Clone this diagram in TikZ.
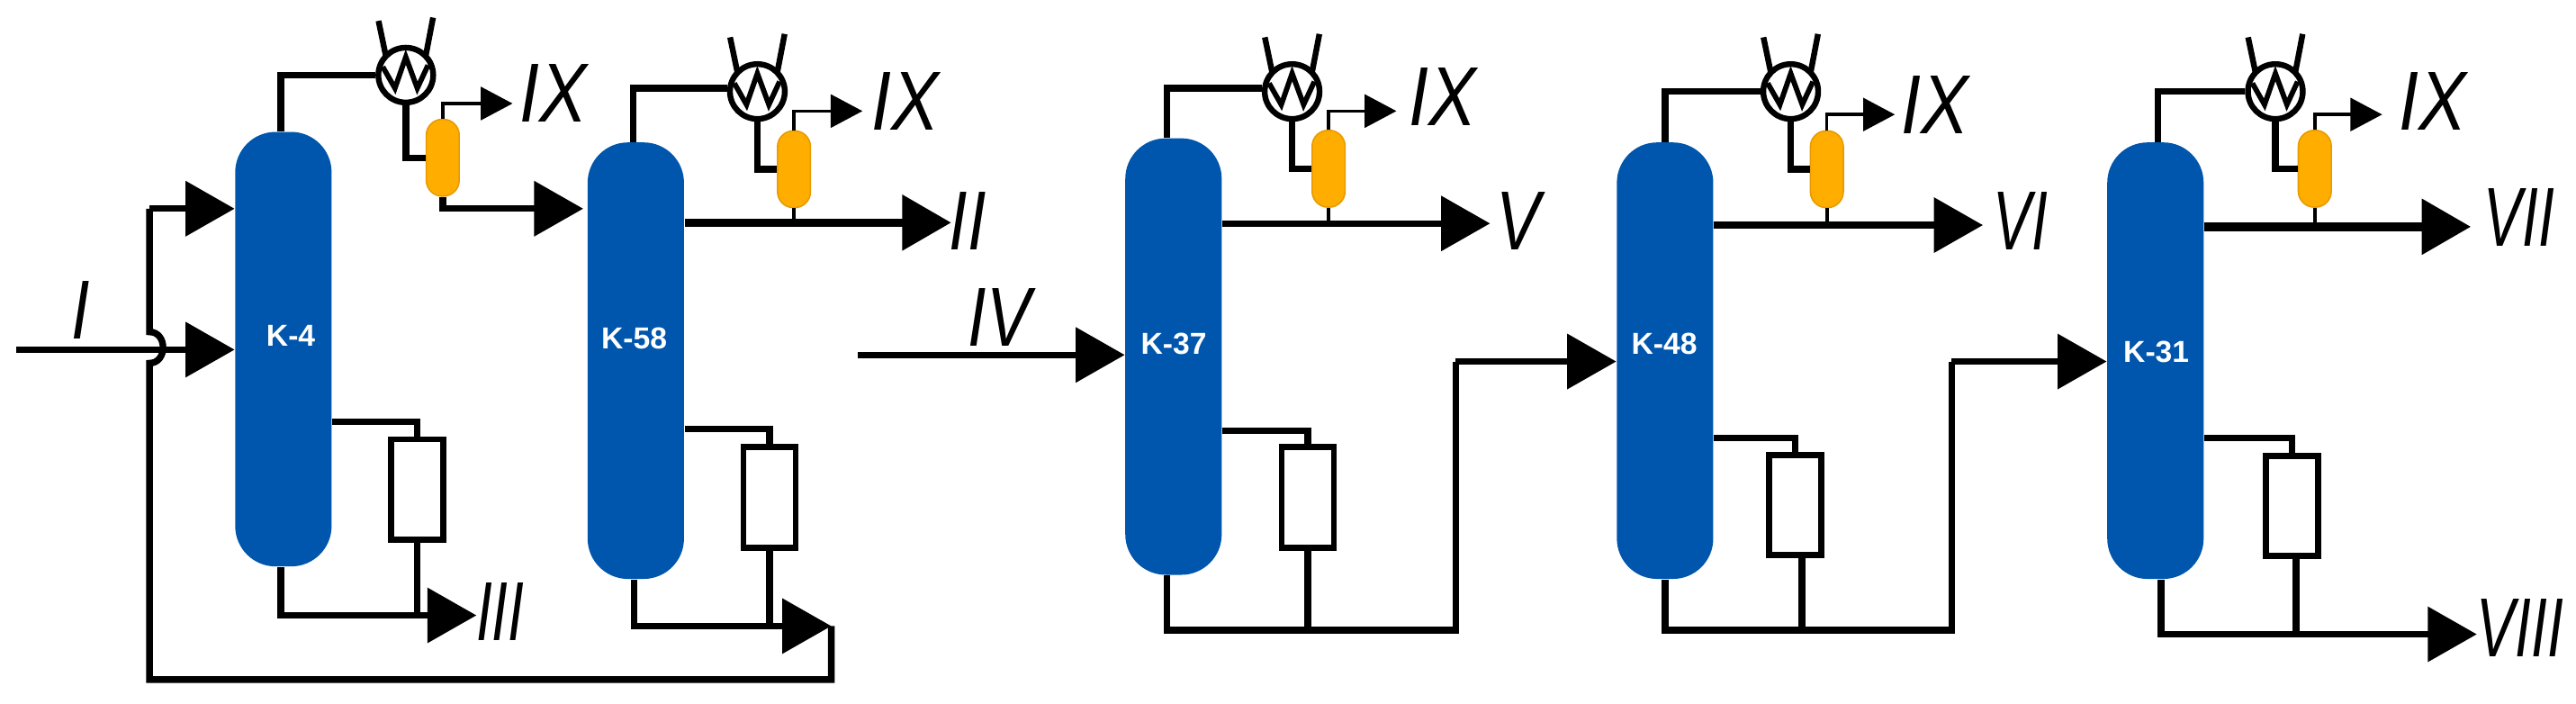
\documentclass[tikz,border=0pt]{standalone}
\usepackage{fontspec}
\setmainfont{Liberation Sans}
\newfontfamily\labA{Liberation Sans}[FakeStretch=0.85]
\newfontfamily\labB{Liberation Sans}[FakeStretch=0.79]
\newfontfamily\labC{Liberation Sans}[FakeStretch=0.69]
\usetikzlibrary{arrows.meta}
\definecolor{colblue}{HTML}{0056AC}
\definecolor{drumor}{HTML}{FFAE00}
\definecolor{drumedge}{HTML}{E89A00}
\tikzset{
  line/.style={line width=2.3pt,black},
  heavy/.style={line width=3pt,black},
  vent/.style={line width=1.1pt,black},
  stub/.style={line width=1.3pt,black},
  big/.style={-{Triangle[length=17pt,width=18.7pt]}},
  small/.style={-{Triangle[length=11pt,width=11.4pt]}},
  column/.style={draw=none,fill=colblue,rounded corners=14pt,minimum width=33.4pt,minimum height=151.2pt,inner sep=0pt},
  coltext/.style={inner sep=0pt,text=white,font=\fontsize{10.5}{10.5}\selectfont\bfseries},
  drum/.style={draw=drumedge,line width=.5pt,fill=drumor,rounded corners=5.5pt,minimum width=11.4pt,minimum height=26.6pt,inner sep=0pt},
  reb/.style={draw=black,line width=2.1pt,fill=white,minimum width=18.1pt,minimum height=34.7pt,inner sep=0pt},
  hx/.style={circle,draw=black,line width=2pt,fill=white,minimum size=19pt,inner sep=0pt},
  laba/.style={inner sep=0pt,font=\labA\fontsize{29}{29}\selectfont\itshape},
  labb/.style={inner sep=0pt,font=\labB\fontsize{29}{29}\selectfont\itshape},
  labc/.style={inner sep=0pt,font=\labC\fontsize{29}{29}\selectfont\itshape},
}
\newcommand{\HeatX}[3]{%
  \node[hx] (#1) at (#2,#3) {};
  \draw[line width=2pt] (#2-12,#3-11) -- (#2-16.6,#3-33);
  \draw[line width=2pt] (#2+12,#3-11) -- (#2+16.6,#3-35);
  \draw[line width=1.8pt,line join=miter] (#2-14,#3-5) -- (#2-6.6,#3+8) -- (#2,#3-11) -- (#2+7,#3+8) -- (#2+13.5,#3-6);
}
\begin{document}
\begin{tikzpicture}[x=0.02cm,y=-0.02cm]
\useasboundingbox (0,0) rectangle (1568,428);

% columns
\node[column,minimum height=150.5pt] (k4) at (172.5,212.5) {};
\node[column] (k58) at (387,219.5) {};
\node[column] (k37) at (714.3,217) {};
\node[column] (k48) at (1013.5,219.5) {};
\node[column] (k31) at (1312,219.5) {};
\node[coltext] (t4)  at (177,204.5) {K-4};
\node[coltext] (t58) at (386,206) {K-58};
\node[coltext] (t37) at (714.5,209) {K-37};
\node[coltext] (t48) at (1013,209) {K-48};
\node[coltext] (t31) at (1312.5,214) {K-31};

% condensers
\HeatX{c1}{247}{45.7}
\HeatX{c2}{461}{55.7}
\HeatX{c3}{786.5}{55.7}
\HeatX{c4}{1090}{55.7}
\HeatX{c5}{1385}{55.7}

% drums
\node[drum] (d1) at (269.5,96)   {};
\node[drum] (d2) at (483.3,103)  {};
\node[drum] (d3) at (808.7,102.7){};
\node[drum] (d4) at (1112,103)   {};
\node[drum] (d5) at (1409,102.7) {};

% reboilers
\node[reb] (r1) at (253.8,297.8) {};
\node[reb] (r2) at (468.4,302.7) {};
\node[reb] (r3) at (796,302.7)   {};
\node[reb] (r4) at (1092.8,307.3){};
\node[reb] (r5) at (1395,308)    {};

% free ends
\coordinate (feedI) at (10,212.8);
\coordinate (branch) at (91,127);
\coordinate (loopA) at (506,381);
\coordinate (loopB) at (506,413.6);
\coordinate (loopC) at (91,413.6);
\coordinate (jumpA) at (91,221);
\coordinate (jumpB) at (91,202);
\coordinate (feedIV) at (522,216);
\coordinate (t1) at (355,127);
\coordinate (v1) at (312,63);
\coordinate (v2) at (525,67.6);
\coordinate (v3) at (850,67.6);
\coordinate (v4) at (1153.4,69.7);
\coordinate (v5) at (1450,69.7);
\coordinate (o2) at (579,135.5);
\coordinate (o3) at (907,136);
\coordinate (o4) at (1207,137);
\coordinate (o5) at (1504,138);
\coordinate (b1) at (290,374.5);
\coordinate (b5) at (1507.6,386);
\coordinate (m3) at (886,383.6);
\coordinate (m4) at (1188,383.6);
\coordinate (e3) at (886,220);
\coordinate (e4) at (1188,220);

% feeds
\draw[line,big] (feedI) -- (feedI -| k4.west);
\draw[line] (loopA) -- (loopB) -- (loopC) -- (jumpA)
  .. controls (102,221) and (102,202) .. (jumpB) -- (branch);
\draw[line,big] (branch) -- (branch -| k4.west);
\draw[line,big] (feedIV) -- (feedIV -| k37.west);

% overhead to condenser
\draw[line] ([xshift=-.03cm]k4.north) |- (c1.west);
\draw[line] ([xshift=-.03cm]k58.north) |- ([yshift=.04cm]c2.west);
\draw[line] ([xshift=-.08cm]k37.north) |- ([yshift=.04cm]c3.west);
\draw[line] (k48.north) |- (c4.west);
\draw[line] ([xshift=.03cm]k31.north) |- (c5.west);

% condenser to drum
\draw[line] (c1.south) |- (d1.west);
\draw[line] (c2.south) |- (d2.west);
\draw[line] (c3.south) |- (d3.west);
\draw[line] (c4.south) |- (d4.west);
\draw[line] (c5.south) |- (d5.west);

% drum vents
\draw[vent,small] (d1.north) |- (v1);
\draw[vent,small] (d2.north) |- (v2);
\draw[vent,small] (d3.north) |- (v3);
\draw[vent,small] (d4.north) |- (v4);
\draw[vent,small] (d5.north) |- (v5);

% products
\draw[line,big] (d1.south) |- (t1);
\draw[heavy,big] (o2 -| k58.east) -- (o2);
\draw[line,big] (o3 -| k37.east) -- (o3);
\draw[line,big] (o4 -| k48.east) -- (o4);
\draw[heavy,big] (o5 -| k31.east) -- (o5);
\draw[stub] (d2.south) -- (o2 -| d2.south);
\draw[stub] (d3.south) -- (o3 -| d3.south);
\draw[stub] (d4.south) -- (o4 -| d4.south);
\draw[stub] (d5.south) -- (o5 -| d5.south);

% reboilers
\draw[line] (k4.east |- 0,256.6) -| (r1.north);
\draw[line] (k58.east |- 0,261) -| (r2.north);
\draw[line] (k37.east |- 0,262) -| (r3.north);
\draw[line] (k48.east |- 0,266.7) -| (r4.north);
\draw[line] (k31.east |- 0,266.7) -| (r5.north);

% bottoms
\draw[line,big] ([xshift=-.03cm]k4.south) |- (b1);
\draw[line,big] ([xshift=-.02cm]k58.south) |- (loopA);
\draw[line] ([xshift=-.08cm]k37.south) |- (m3) -- (e3);
\draw[line,big] (e3) -- (e3 -| k48.west);
\draw[line] (k48.south) |- (m4) -- (e4);
\draw[line,big] (e4) -- (e4 -| k31.west);
\draw[line,big] ([xshift=.07cm]k31.south) |- (b5);
\draw[line] (r1.south) -- (b1 -| r1.south);
\draw[line] (r2.south) -- (loopA -| r2.south);
\draw[line] (r3.south) -- (m3 -| r3.south);
\draw[line] ([xshift=.08cm]r4.south) -- ([xshift=.08cm]r4.south |- m4);
\draw[line] ([xshift=.05cm]r5.south) -- ([xshift=.05cm]r5.south |- b5);

% labels
\node[labb] (lI) at (49,188.6) {I};
\node[labb] (lIV) at (608.5,193) {IV};
\node[laba] (lIX1) at (337,56.5) {IX};
\node[laba] (lIX2) at (551,61.7) {IX};
\node[laba] (lIX3) at (878,59) {IX};
\node[laba] (lIX4) at (1178,64) {IX};
\node[laba] (lIX5) at (1481,61.7) {IX};
\node[labb] (lII) at (589,134.5) {II};
\node[labb] (lV) at (924,134.5) {V};
\node[labc] (lVI) at (1229.7,134.5) {VI};
\node[labc] (lVII) at (1533.5,132.3) {VII};
\node[labc] (lIII) at (304.5,372.5) {III};
\node[labc] (lVIII) at (1534,382) {VIII};
\end{tikzpicture}
\end{document}
